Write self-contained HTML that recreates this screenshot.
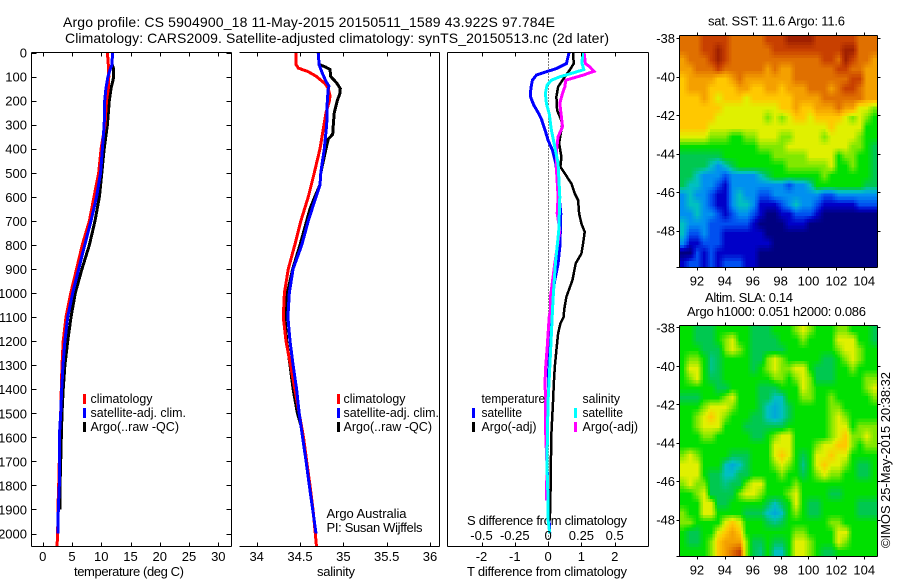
<!DOCTYPE html>
<html>
<head>
<meta charset="utf-8">
<title>Argo profile 5904900_18</title>
<style>
html,body{margin:0;padding:0;background:#fff;}
svg{display:block;}
text{font-family:"Liberation Sans",sans-serif;font-size:13px;fill:#000;}
</style>
</head>
<body>
<svg id="chart" xmlns="http://www.w3.org/2000/svg" width="900" height="580" viewBox="0 0 900 580">
<defs>
<clipPath id="clipSst"><rect x="679.5" y="35.5" width="198" height="232"/></clipPath>
<clipPath id="clipSla"><rect x="679.5" y="325.5" width="198" height="231"/></clipPath>
</defs>
<text x="63" y="27" style="font-size:14px" textLength="492" lengthAdjust="spacing">Argo profile: CS 5904900_18 11-May-2015 20150511_1589 43.922S 97.784E</text>
<text x="65" y="43" style="font-size:14px" textLength="544" lengthAdjust="spacing">Climatology: CARS2009. Satellite-adjusted climatology: synTS_20150513.nc (2d later)</text>
<text x="74" y="576" textLength="110" lengthAdjust="spacing">temperature (deg C)</text>
<text x="317" y="576" textLength="38" lengthAdjust="spacing">salinity</text>
<text x="467" y="576" textLength="160" lengthAdjust="spacing">T difference from climatology</text>
<text x="467" y="525" textLength="160" lengthAdjust="spacing">S difference from climatology</text>
<text x="326.5" y="518" textLength="80" lengthAdjust="spacing">Argo Australia</text>
<text x="326.5" y="532" textLength="96" lengthAdjust="spacing">PI: Susan Wijffels</text>
<text x="708" y="25.5" textLength="137" lengthAdjust="spacing">sat. SST: 11.6 Argo: 11.6</text>
<text x="705" y="302" textLength="88" lengthAdjust="spacing">Altim. SLA: 0.14</text>
<text x="687" y="316" textLength="179" lengthAdjust="spacing">Argo h1000: 0.051 h2000: 0.086</text>
<text transform="translate(890,548) rotate(-90)" textLength="176" lengthAdjust="spacing">©IMOS 25-May-2015 20:38:32</text>
</svg>
<script>
// ---------- profile data ----------
const tDepthsClim = [0,50,100,150,200,300,400,500,600,700,800,900,1000,1100,1200,1300,1400,1500,1600,1700,1800,1900,2000,2054];
const tClim = [11.05,11.2,11.3,11.2,10.9,10.65,9.97,9.57,8.77,7.97,6.77,5.8,4.8,3.98,3.5,3.3,3.18,3.07,2.84,2.84,2.73,2.6,2.56,2.45];
const tDepthsSat = [0,50,65,100,150,200,300,400,500,600,700,800,900,1000,1100,1200,1300,1400,1500,1600,1700,1800,1900,2000];
const tSat = [11.9,11.85,11.6,11.15,10.8,10.6,10.5,10.2,9.9,9.2,8.25,7.2,6.15,5.13,4.27,3.8,3.47,3.25,3.07,2.84,2.84,2.84,2.67,2.6];
const tDepthsArgo = [0,50,70,100,120,150,200,300,400,500,600,700,800,900,1000,1100,1200,1300,1400,1500,1600,1700,1800,1900];
const tArgo = [11.9,11.85,12.13,12.13,11.96,11.67,11.38,11.05,10.5,10.1,9.68,8.94,7.97,6.72,5.57,4.84,4.27,3.8,3.5,3.3,3.18,3.07,2.96,2.96];

const sDepthsClim = [0,50,65,80,100,130,150,180,200,250,300,400,500,600,700,800,900,1000,1100,1200,1300,1400,1500,1600,1700,1800,1900,2000,2054];
const sClim = [34.454,34.454,34.48,34.596,34.69,34.79,34.826,34.846,34.84,34.8,34.777,34.73,34.665,34.596,34.51,34.44,34.365,34.32,34.307,34.338,34.39,34.44,34.49,34.54,34.577,34.615,34.65,34.676,34.69];
const sDepthsSat = [0,50,80,120,140,150,200,300,400,500,550,600,700,800,900,1000,1100,1200,1300,1400,1500,1600,1700,1800,1900,2000];
const sSat = [34.71,34.72,34.75,34.8,34.834,34.826,34.815,34.808,34.78,34.74,34.73,34.684,34.596,34.52,34.42,34.376,34.36,34.384,34.42,34.46,34.49,34.53,34.57,34.607,34.646,34.684];
const sDepthsArgo = [0,50,60,70,100,125,150,170,200,250,300,340,360,400,500,550,600,650,700,800,900,1000,1100,1200,1300,1400,1500,1550,1600];
const sArgo = [34.71,34.72,34.79,34.846,34.854,34.92,34.965,34.96,34.93,34.895,34.884,34.877,34.826,34.8,34.74,34.73,34.67,34.615,34.577,34.5,34.415,34.353,34.326,34.346,34.384,34.42,34.47,34.51,34.53];

const dtDepthsSat = [0,46,67,80,94,115,150,184,219,254,281,323,365,406,462,531,600,669,739,808,877,947,1016,1071,1168,1307,1446,1584,1723,1862,2000];
const dtSat = [0.63,0.55,0.25,-0.05,-0.35,-0.47,-0.52,-0.53,-0.43,-0.28,-0.19,-0.09,0,0.13,0.23,0.29,0.33,0.38,0.37,0.35,0.30,0.20,0.13,0.10,0.05,0.02,0,-0.05,-0.03,0,0.05];
const dtDepthsArgo = [0,46,73,101,122,143,184,240,267,295,378,434,475,503,545,586,614,669,711,746,794,836,877,947,1016,1071,1099,1127,1168,1238,1307,1376,1446,1584,1723,1862,1945];
const dtArgo = [0.75,0.77,0.65,0.5,0.4,0.30,0.25,0.27,0.35,0.43,0.33,0.40,0.37,0.5,0.7,0.8,0.9,0.93,1.0,1.1,1.05,1.0,0.83,0.73,0.55,0.48,0.47,0.37,0.30,0.25,0.20,0.17,0.15,0.10,0.08,0.07,0.05];
const dsDepthsSat = [0,46,71,85,101,115,136,170,212,254,323,392,462,600,739,877,1016,1071,1168,1307,1446,1584,1723,1862,1945,2000];
const dsSat = [0.258,0.255,0.268,0.188,0.088,0.025,-0.008,-0.02,-0.013,0.008,0.025,0.05,0.075,0.088,0.08,0.055,0.038,0.033,0.025,0.013,0,-0.005,-0.008,0,0,0.013];
const dsDepthsArgo = [0,46,60,78,94,115,143,170,212,267,309,350,406,490,600,669,739,877,1016,1071,1099,1168,1238,1307,1376,1446,1584,1723,1862];
const dsArgo = [0.27,0.28,0.313,0.345,0.263,0.133,0.125,0.108,0.088,0.10,0.108,0.075,0.063,0.063,0.075,0.068,0.088,0.05,0.018,0.018,0.008,0,-0.008,-0.018,-0.023,-0.018,-0.018,-0.008,-0.013];

// ---------- tick labels ----------
const depthTicks = [0,100,200,300,400,500,600,700,800,900,1000,1100,1200,1300,1400,1500,1600,1700,1800,1900,2000];
const tempTicks = [0,5,10,15,20,25,30];
const salTicks = [34,34.5,35,35.5,36];
const dtTicks = [-2,-1,0,1,2];
const dsTicks = [-0.5,-0.25,0,0.25,0.5];
const lonTicks = [92,94,96,98,100,102,104];
const latTicks = [-38,-40,-42,-44,-46,-48];

// ---------- map grids (colour-scale units, rows from north to south) ----------
const sstGrid = [
[11,11,11,12,12,12,12,11,11,11,11,11,12,12,12,13,13,13,13,12,12,12,12,12,12,11,11,11],
[11,11,11,12,12,13,12,11,11,11,11,11,11,12,12,12,12,12,12,12,12,12,12,13,13,11,11,11],
[10,11,11,11,12,13,12,11,11,11,11,11,11,11,11,11,11,11,11,11,12,12,11,13,12,11,11,10],
[10,10,11,11,11,12,11,11,11,11,11,11,10,11,10,10,11,11,11,11,11,11,12,12,11,11,10,10],
[9,10,10,10,10,9,9,10,11,10,10,10,10,10,10,10,11,11,11,11,11,11,11,11,12,12,10,10],
[9,10,10,10,9,9,9,9,10,10,9,9,10,10,9,10,10,10,11,11,11,10,11,12,12,11,10,10],
[9,9,9,10,9,8,9,9,9,8,9,9,9,9,9,9,10,10,10,10,11,11,11,11,11,11,10,10],
[9,9,9,9,9,9,8,8,8,8,8,8,8,8,9,9,10,9,9,10,10,10,11,10,10,8,8,7],
[9,9,9,9,9,8,8,8,8,8,8,8,7,8,7,8,9,9,8,9,9,9,9,8,7,8,7,6],
[9,9,9,9,8,8,8,8,8,8,8,8,8,8,8,8,8,8,8,8,8,9,8,8,8,8,6,6],
[8,8,8,8,7,7,7,6,6,7,7,8,8,8,7,7,8,8,8,8,7,8,8,8,8,7,6,6],
[6,6,6,6,6,6,6,6,6,6,6,7,7,7,7,8,8,8,8,8,8,8,8,8,7,7,6,5],
[5,5,5,5,5,5,6,6,6,6,6,6,6,7,7,7,7,7,8,8,8,8,6,7,7,6,6,5],
[5,5,5,5,4,3,4,5,6,6,6,6,6,6,6,7,7,7,7,7,7,8,6,6,7,6,6,5],
[5,5,4,3,3,3,2,3,3,3,3,4,5,6,6,6,6,6,6,6,7,6,6,6,6,6,6,5],
[5,4,4,3,3,2,1,3,3,3,3,3,3,3,3,2,3,3,4,6,6,6,6,6,6,6,5,5],
[3,4,3,3,2,1,1,3,4,3,3,2,2,3,3,3,3,3,3,3,2,2,3,3,3,3,3,3],
[3,4,4,3,2,1,1,3,4,4,3,1,1,1,2,3,4,3,3,2,1,1,1,1,1,2,2,2],
[3,3,4,3,3,2,1,2,3,3,2,1,0,0,1,1,2,2,2,1,0,0,0,0,0,0,0,0],
[4,3,3,3,2,2,2,2,2,2,1,0,0,0,0,1,1,1,0,0,0,0,0,0,0,0,0,0],
[4,2,2,3,2,2,1,1,1,1,1,1,0,0,0,0,0,0,0,0,0,0,0,0,0,0,0,0],
[3,1,1,2,2,2,1,1,1,1,1,1,1,0,0,0,0,0,0,0,0,0,0,0,0,0,0,0],
[0,0,2,1,2,1,1,1,1,1,1,0,0,0,0,0,0,0,0,0,0,0,0,0,0,0,0,0],
[1,2,2,1,2,1,2,2,2,1,1,0,0,0,0,0,0,0,0,0,0,0,0,0,0,0,0,0]
];
const slaGrid = [
[6,6,5,5,5,6,6,6,6,6,5,5,5,6,6,6,7,8,7,6,6,6,7,7,6,6,6,5],
[6,6,5,5,5,6,7,8,6,6,5,5,5,5,6,6,6,7,6,6,6,6,8,8,8,6,6,5],
[6,6,6,5,5,5,7,8,7,6,5,5,5,5,5,6,6,6,6,6,6,6,7,8,8,7,6,6],
[6,7,7,6,4.5,5,6,6,6,6,5,5,7,8,7,6,6,6,6,6,5,5,6,7,8,7,6,6],
[6,8,8,6,4.5,5,6,6,6,6,5,6,7,8,7,7,8,8,6,5,5,5,6,6,7,6,6,6],
[6,7,8,6,5,5,6,6,6,6,6,6,6,7,7,6,7,8,7,5,5,5,6,6,6,6,7,7],
[6,6,6,6,6,5,5,6,6,6,6,5,5,5,6,6,6,8,7,6,6,6,6,6,6,6,7,8],
[5,5,5,6,6,6,7,8,6,6,6,5,5,4,4,6,6,7,7,6,6,7,6,6,6,6,6,7],
[6,6,6,7,8,8,8,7,6,6,6,5,4,3.5,4,5,6,6,6,6,6,7,7,6,6,6,6,6],
[6,6,7,8,9,8,7,6,6,6,5,5,4,3.5,4,5,6,6,6,6,6,7,8,7,6,6,6,6],
[6,6,7,8,8,8,6,6,6,5,5,5,5,5,5,6,6,6,6,6,6,7,8,8,6,7,7,7],
[6,6,6,7,7,6,6,6,6,6,5,5,6,7,8,8,6,6,6,6,6,7,8,9,7,7,8,7],
[6,6,6,6,6,6,6,6,6,6,6,6,6,8,8,8,6,6,6,7,8,8,9,9,7,6,7,7],
[7,8,7,6,6,6,6,5,5,5,6,6,6,8,9,8,6,5,6,8,8,9,8,8,6,6,6,6],
[8,8,8,6,6,6,4,3.5,4,5,6,6,6,7,8,7,6,4.5,6,8,9,8,8,7,6,5,5,6],
[8,8,8,6,5,5,4,4,5,5,6,6,6,6,7,6,6,5,6,7,8,7,7,6,6,5,5,6],
[7,8,7,7,5,5,4.5,5,5,7,8,8,6,6,6,6,7,6,6,6,6,6,6,6,6,6,6,6],
[6,6,7,8,5,5,5,5,7,8,8,7,6,6,6,7,8,6,6,6,6,5,5,6,6,6,6,6],
[6,6,6,8,8,5,5,6,6,6,6,6,5,4,5,6,8,6,5,5,6,6,6,6,6,5,5,5],
[7,6,6,8,8,6,6,6,6,5,5,5,4,3.5,4,6,7,6,5,5,6,6,6,6,6,5,5,5],
[7,7,6,6,6,6,8,9,8,6,6,6,5,4.5,5,6,6,6,6,6,6,7,7,6,6,6,6,6],
[6,5,5,6,6,8,9,10,9,6,6,6,6,6,6,6,7,7,6,6,6,6,8,8,6,6,6,6],
[6,5,5,6,7,9,10,10,10,7,5,5,6,5,5,6,8,8,7,6,6,6,8,7,6,6,6,6],
[6,6,6,6,7,9,10,11,12,7,5,4.5,6,4,4,6,8,8,7,6,5,5,6,6,6,6,6,6]
];
const palette = ["#000080","#0000c8","#0050f0","#0090f0","#00c0c0","#00c850","#00e000","#80e800","#e0f000","#ffc800","#f4a000","#e07000","#c84000","#a02000"];

// ---------- helpers ----------
const svg = document.getElementById('chart');
const NS = 'http://www.w3.org/2000/svg';
function linear(d0, d1, r0, r1) {
  return function (v) { return r0 + (v - d0) * (r1 - r0) / (d1 - d0); };
}
function seg(parent, x1, y1, x2, y2, name) {
  const el = document.createElementNS(NS, 'line');
  el.setAttribute('x1', x1);
  el.setAttribute('y1', y1);
  el.setAttribute('x2', x2);
  el.setAttribute('y2', y2);
  el.setAttribute('stroke', '#000');
  el.setAttribute('stroke-width', 1);
  el.setAttribute('shape-rendering', 'crispEdges');
  
  
  parent.appendChild(el);
  return el;
}
function label(x, y, str, anchor, name, len) {
  const el = document.createElementNS(NS, 'text');
  el.setAttribute('x', x);
  el.setAttribute('y', y);
  el.setAttribute('text-anchor', anchor);
  if (len) {
    el.setAttribute('textLength', len);
    el.setAttribute('lengthAdjust', 'spacingAndGlyphs');
  }
  el.textContent = str;
  
  
  svg.appendChild(el);
  return el;
}
function profile(depths, values, sx, sy, color, width, name) {
  const el = document.createElementNS(NS, 'polyline');
  el.setAttribute('points', depths.map(function (d, i) { return sx(values[i]).toFixed(1) + ',' + sy(d).toFixed(1); }).join(' '));
  el.setAttribute('fill', 'none');
  el.setAttribute('stroke', color);
  el.setAttribute('stroke-width', width);
  el.setAttribute('shape-rendering', 'crispEdges');
  
  
  svg.appendChild(el);
}
function legendBar(x, y, color, name) {
  const el = document.createElementNS(NS, 'rect');
  el.setAttribute('x', x);
  el.setAttribute('y', y);
  el.setAttribute('width', 3);
  el.setAttribute('height', 10);
  el.setAttribute('fill', color);
  el.setAttribute('shape-rendering', 'crispEdges');
  
  
  svg.appendChild(el);
}
function mapColor(v) {
  const c = Math.max(0, Math.min(palette.length - 1, v));
  const i = Math.min(palette.length - 2, Math.floor(c));
  const f = c - i;
  const a = palette[i], b = palette[i + 1];
  let out = '#';
  for (let k = 1; k < 7; k += 2) {
    const p = parseInt(a.substr(k, 2), 16), q = parseInt(b.substr(k, 2), 16);
    out += ('0' + Math.round(p + (q - p) * f).toString(16)).slice(-2);
  }
  return out;
}
function frame(x0, y0, x1, y1, sides, prefix) {
  if (sides.indexOf('t') >= 0) seg(svg, x0, y0, x1, y0, prefix + '-top-border');
  if (sides.indexOf('b') >= 0) seg(svg, x0, y1, x1, y1, prefix + '-bottom-border');
  if (sides.indexOf('l') >= 0) seg(svg, x0, y0, x0, y1, prefix + '-left-border');
  if (sides.indexOf('r') >= 0) seg(svg, x1, y0, x1, y1, prefix + '-right-border');
}

// ---------- profile panels ----------
const top_ = 52.5, bottom_ = 546.5;
const sy = linear(0, 2000, 52.5, 533.5);
const sxT = linear(0, 30, 42.7, 218.3);
const sxS = linear(34, 36, 256.7, 430);
const sxDT = linear(-2, 2, 481.5, 614.7);
const sxDS = linear(-0.5, 0.5, 481.5, 614.7);

// temperature panel
profile(tDepthsArgo, tArgo, sxT, sy, '#000', 3, 'temperature-argo-line');
profile(tDepthsClim, tClim, sxT, sy, '#ff0000', 3, 'temperature-climatology-line');
profile(tDepthsSat, tSat, sxT, sy, '#0000ff', 3, 'temperature-satellite-line');
frame(31.5, top_, 231.5, bottom_, 'tblr', 'temperature-panel');
depthTicks.forEach(function (d) {
  seg(svg, 31.5, Math.round(sy(d)) + 0.5, 36.5, Math.round(sy(d)) + 0.5, 'depth-tick-left');
  seg(svg, 226.5, Math.round(sy(d)) + 0.5, 231.5, Math.round(sy(d)) + 0.5, 'depth-tick-right');
  label(27, sy(d) + 5, String(d), 'end', 'depth-tick-label');
});
tempTicks.forEach(function (t) {
  seg(svg, Math.round(sxT(t)) + 0.5, top_, Math.round(sxT(t)) + 0.5, top_ + 4, 'temperature-tick-top');
  seg(svg, Math.round(sxT(t)) + 0.5, bottom_ - 4, Math.round(sxT(t)) + 0.5, bottom_, 'temperature-tick-bottom');
  label(sxT(t), 561, String(t), 'middle', 'temperature-tick-label');
});

// salinity panel
profile(sDepthsArgo, sArgo, sxS, sy, '#000', 3, 'salinity-argo-line');
profile(sDepthsClim, sClim, sxS, sy, '#ff0000', 3, 'salinity-climatology-line');
profile(sDepthsSat, sSat, sxS, sy, '#0000ff', 3, 'salinity-satellite-line');
frame(239.5, top_, 439.5, bottom_, 'tbr', 'salinity-panel');
salTicks.forEach(function (t) {
  seg(svg, Math.round(sxS(t)) + 0.5, top_, Math.round(sxS(t)) + 0.5, top_ + 4, 'salinity-tick-top');
  seg(svg, Math.round(sxS(t)) + 0.5, bottom_ - 4, Math.round(sxS(t)) + 0.5, bottom_, 'salinity-tick-bottom');
  label(sxS(t), 561, String(t), 'middle', 'salinity-tick-label');
});

// difference panel
const zeroLine = seg(svg, Math.round(sxDT(0)) + 0.5, top_, Math.round(sxDT(0)) + 0.5, bottom_, 'zero-difference-line');
zeroLine.setAttribute('stroke-dasharray', '1 2');
profile(dtDepthsSat, dtSat, sxDT, sy, '#0000ff', 3, 'tdiff-satellite-line');
profile(dtDepthsArgo, dtArgo, sxDT, sy, '#000', 2.5, 'tdiff-argo-line');
profile(dsDepthsArgo, dsArgo, sxDS, sy, '#ff00ff', 3, 'sdiff-argo-line');
profile(dsDepthsSat, dsSat, sxDS, sy, '#00ffff', 3, 'sdiff-satellite-line');
frame(447.5, top_, 648.5, bottom_, 'tblr', 'difference-panel');
dtTicks.forEach(function (t) {
  seg(svg, Math.round(sxDT(t)) + 0.5, top_, Math.round(sxDT(t)) + 0.5, top_ + 4, 'tdiff-tick-top');
  seg(svg, Math.round(sxDT(t)) + 0.5, bottom_ - 4, Math.round(sxDT(t)) + 0.5, bottom_, 'tdiff-tick-bottom');
  label(sxDT(t), 561, String(t), 'middle', 'tdiff-tick-label');
});
dsTicks.forEach(function (t) {
  label(sxDS(t), 540, String(t), 'middle', 'sdiff-tick-label');
});

// legends
legendBar(83, 394, '#ff0000', 'legend-swatch-climatology');
label(90.5, 403, 'climatology', 'start', 'legend-label-climatology', 62);
legendBar(83, 408, '#0000ff', 'legend-swatch-satellite');
label(90.5, 417, 'satellite-adj. clim.', 'start', 'legend-label-satellite', 95.5);
legendBar(83, 422, '#000', 'legend-swatch-argo');
label(90.5, 431, 'Argo(..raw -QC)', 'start', 'legend-label-argo', 88.5);
legendBar(337, 394, '#ff0000', 'legend-swatch-salinity-climatology');
label(343.5, 403, 'climatology', 'start', 'legend-label-salinity-climatology', 62);
legendBar(337, 408, '#0000ff', 'legend-swatch-salinity-satellite');
label(343.5, 417, 'satellite-adj. clim.', 'start', 'legend-label-salinity-satellite', 95.5);
legendBar(337, 422, '#000', 'legend-swatch-salinity-argo');
label(343.5, 431, 'Argo(..raw -QC)', 'start', 'legend-label-salinity-argo', 88.5);
label(481.5, 403, 'temperature', 'start', 'legend-heading-temperature', 63.5);
legendBar(472, 408, '#0000ff', 'legend-swatch-tdiff-satellite');
label(481.5, 417, 'satellite', 'start', 'legend-label-tdiff-satellite', 40.5);
legendBar(472, 422, '#000', 'legend-swatch-tdiff-argo');
label(481.5, 431, 'Argo(-adj)', 'start', 'legend-label-tdiff-argo', 55);
label(582.5, 403, 'salinity', 'start', 'legend-heading-salinity', 37.5);
legendBar(574, 408, '#00ffff', 'legend-swatch-sdiff-satellite');
label(582.5, 417, 'satellite', 'start', 'legend-label-sdiff-satellite', 40.5);
legendBar(574, 422, '#ff00ff', 'legend-swatch-sdiff-argo');
label(582.5, 431, 'Argo(-adj)', 'start', 'legend-label-sdiff-argo', 55.5);

// ---------- maps ----------
const lonMin = 90.75, lonMax = 104.95;
const SUB = 3;
function sample(grid, r, c) {
  const rr = Math.max(0, Math.min(grid.length - 1, r));
  const cc = Math.max(0, Math.min(grid[0].length - 1, c));
  const r0 = Math.floor(rr), c0 = Math.floor(cc);
  const r1 = Math.min(grid.length - 1, r0 + 1), c1 = Math.min(grid[0].length - 1, c0 + 1);
  const fr = rr - r0, fc = cc - c0;
  return (grid[r0][c0] * (1 - fc) + grid[r0][c1] * fc) * (1 - fr) +
         (grid[r1][c0] * (1 - fc) + grid[r1][c1] * fc) * fr;
}
function drawMap(grid, latTop, latBottom, yTop, yBottom, clipId, prefix) {
  const sx = linear(lonMin, lonMax, 679.5, 877.5);
  const syMap = linear(latTop, latBottom, yTop, yBottom);
  const rows = grid.length, cols = grid[0].length;
  const dLon = (lonMax - lonMin) / cols / SUB, dLat = (latTop - latBottom) / rows / SUB;
  const g = document.createElementNS(NS, 'g');
  g.setAttribute('clip-path', 'url(#' + clipId + ')');
  g.setAttribute('shape-rendering', 'crispEdges');
  
  
  for (let r = 0; r < rows * SUB; r++) {
    for (let c = 0; c < cols * SUB; c++) {
      const el = document.createElementNS(NS, 'rect');
      el.setAttribute('x', sx(lonMin + c * dLon).toFixed(2));
      el.setAttribute('y', syMap(latTop - r * dLat).toFixed(2));
      el.setAttribute('width', (sx(lonMin + dLon) - sx(lonMin) + 0.6).toFixed(2));
      el.setAttribute('height', (syMap(latTop - dLat) - syMap(latTop) + 0.6).toFixed(2));
      el.setAttribute('fill', mapColor(sample(grid, (r + 0.5) / SUB - 0.5, (c + 0.5) / SUB - 0.5)));
      
      
      g.appendChild(el);
    }
  }
  svg.appendChild(g);
  frame(679.5, yTop, 877.5, yBottom, 'tblr', prefix);
  lonTicks.forEach(function (t) {
    const x = Math.round(sx(t)) + 0.5;
    seg(svg, x, yTop - 3, x, yTop, prefix + '-lon-tick-top');
    seg(svg, x, yBottom, x, yBottom + 3, prefix + '-lon-tick-bottom');
    label(sx(t), yBottom + 18, String(t), 'middle', prefix + '-lon-label');
  });
  latTicks.forEach(function (t) {
    const y = Math.round(syMap(t)) + 0.5;
    seg(svg, 676.5, y, 679.5, y, prefix + '-lat-tick-left');
    seg(svg, 877.5, y, 880.5, y, prefix + '-lat-tick-right');
    label(675, syMap(t) + 5, String(t), 'end', prefix + '-lat-label');
  });
  seg(svg, 676.5, yBottom, 679.5, yBottom, prefix + '-corner-tick');
}
drawMap(sstGrid, -37.86, -49.92, 35.5, 267.5, 'clipSst', 'sst-map');
drawMap(slaGrid, -37.9, -49.92, 325.5, 556.5, 'clipSla', 'sla-map');
</script>
</body>
</html>
